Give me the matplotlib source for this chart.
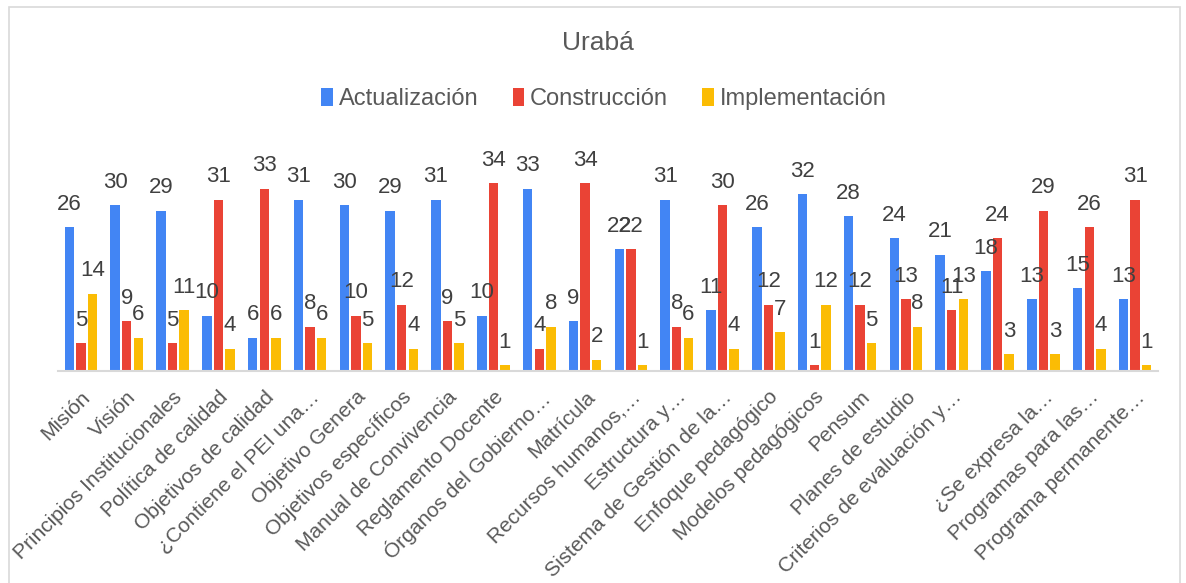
import matplotlib
matplotlib.use("Agg")
import matplotlib.pyplot as plt
import numpy as np
from matplotlib.patches import Rectangle

plt.rcParams['font.family'] = ['Liberation Sans', 'DejaVu Sans']

categories = ["Misión", "Visión", "Principios Institucionales", "Política de calidad",
              "Objetivos de calidad", "¿Contiene el PEI una…", "Objetivo Genera",
              "Objetivos específicos", "Manual de Convivencia", "Reglamento Docente",
              "Órganos del Gobierno…", "Matrícula", "Recursos humanos,…", "Estructura y…",
              "Sistema de Gestión de la…", "Enfoque pedagógico", "Modelos pedagógicos",
              "Pensum", "Planes de estudio", "Criterios de evaluación y…", "",
              "¿Se expresa la…", "Programas para las…", "Programa permanente…"]
actualizacion = [26, 30, 29, 10, 6, 31, 30, 29, 31, 10, 33, 9, 22, 31, 11, 26, 32, 28, 24, 21, 18, 13, 15, 13]
construccion = [5, 9, 5, 31, 33, 8, 10, 12, 9, 34, 4, 34, 22, 8, 30, 12, 1, 12, 13, 11, 24, 29, 26, 31]
implementacion = [14, 6, 11, 4, 6, 6, 5, 4, 5, 1, 8, 2, 1, 6, 4, 7, 12, 5, 8, 13, 3, 3, 4, 1]
series_names = ["Actualización", "Construcción", "Implementación"]
colors = ["#4285F4", "#EA4335", "#FBBC04"]

W, H = 1186, 583
fig = plt.figure(figsize=(W / 100, H / 100), dpi=100)
fig.patches.append(Rectangle((9 / W, -0.05), (1180 - 9) / W, 1 - 7 / H + 0.05,
                             transform=fig.transFigure, fill=False,
                             edgecolor="#d9d9d9", linewidth=1.2))

ax = fig.add_axes([58 / W, 1 - 370.7 / H, 1100 / W, 220.5 / H])
x = np.arange(len(categories))
bw = 0.207
off = 0.252
for k, (vals, name, c) in enumerate(zip([actualizacion, construccion, implementacion], series_names, colors)):
    bars = ax.bar(x + (k - 1) * off, vals, width=bw, color=c, label=name, zorder=2)
    for b, v in zip(bars, vals):
        ax.annotate(str(v), (b.get_x() + b.get_width() / 2, b.get_height()),
                    xytext=(0, 9), textcoords="offset points", ha="center", va="bottom",
                    fontsize=16, color="#404040")

ax.set_xlim(-0.5, len(categories) - 0.5)
ax.set_ylim(0, 40)
ax.set_yticks([])
for s in ["top", "right", "left"]:
    ax.spines[s].set_visible(False)
ax.spines["bottom"].set_color("#d9d9d9")
ax.spines["bottom"].set_linewidth(1.5)
ax.set_xticks(x)
ax.set_xticklabels(categories, rotation=45, ha="right", rotation_mode="anchor",
                   fontsize=15, color="#595959")
ax.tick_params(axis="x", length=0, pad=12)

fig.text(598 / W, 1 - 43 / H, "Urabá", ha="center", va="center", fontsize=19, color="#595959")
fig.legend(loc="center", bbox_to_anchor=(604 / W, 1 - 99 / H), ncol=3, frameon=False,
           fontsize=17, labelcolor="#595959", handlelength=0.5, handleheight=0.8,
           handletextpad=0.25, columnspacing=1.45)

fig.savefig("out.png", dpi=100)
